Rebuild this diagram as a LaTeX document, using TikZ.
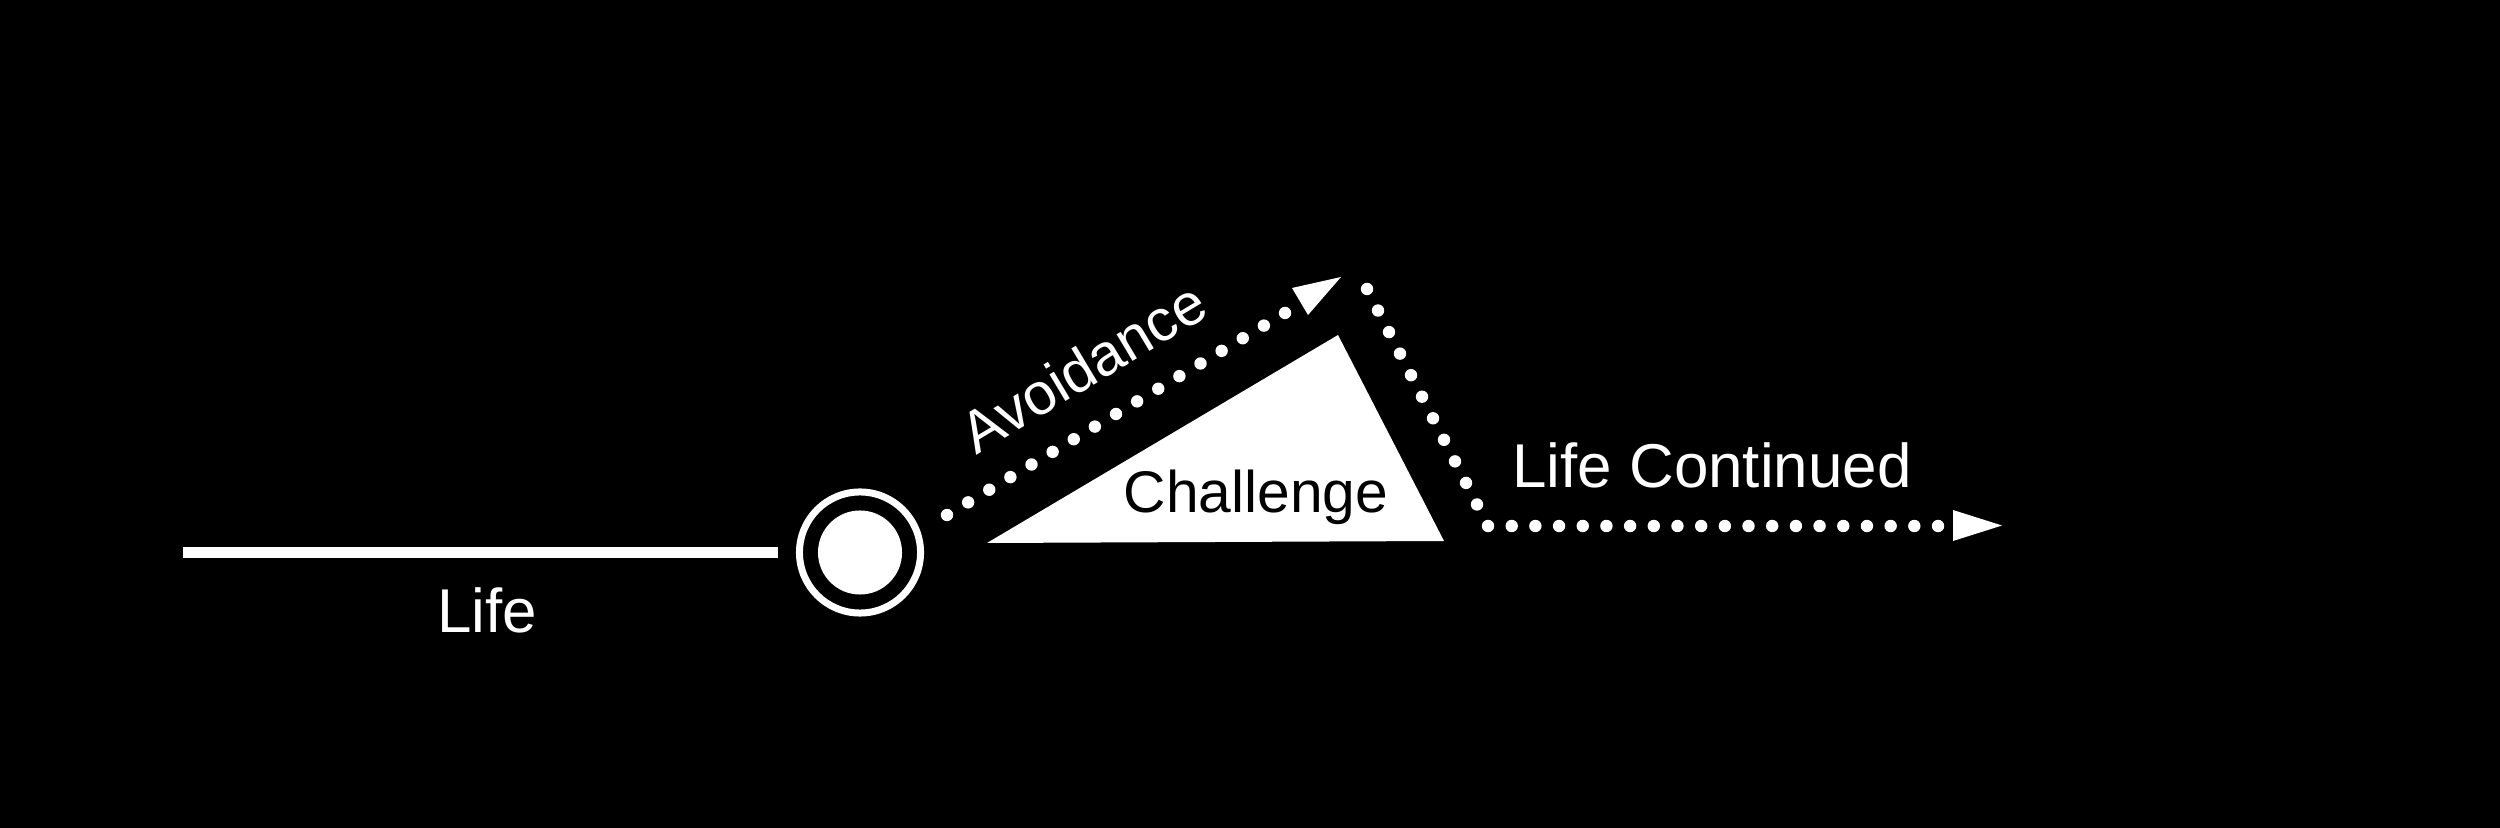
\documentclass[tikz,border=0pt]{standalone}
\usepackage{fontspec}
\setmainfont{Liberation Sans}
\usetikzlibrary{calc}
\tikzset{
  dotfill/.style={fill=white},
  lbl/.style={text=white, inner sep=0pt, anchor=base, font=\fontsize{17.6}{20}\selectfont},
  lblsmall/.style={inner sep=0pt, anchor=base, font=\fontsize{16.7}{19}\selectfont},
}
\begin{document}
\begin{tikzpicture}[x=0.01cm, y=-0.01cm]
  % background
  \fill[black] (0,0) rectangle (2500,828);
  \useasboundingbox (0,0) rectangle (2500,828);

  % named coordinates
  \coordinate (lifeA) at (183,552.5);
  \coordinate (lifeB) at (778,552.5);
  \coordinate (av1) at (947,515);
  \coordinate (av2) at (1285,313);
  \coordinate (avtip) at (1341,277);
  \coordinate (avb1) at (1292,288);
  \coordinate (avb2) at (1308,315);
  \coordinate (lc1) at (1367,289);
  \coordinate (lc2) at (1488,526);
  \coordinate (lc3) at (1938,526);
  \coordinate (lctip) at (2002,525.5);
  \coordinate (lcb1) at (1953,510);
  \coordinate (lcb2) at (1953,541);
  \coordinate (chA) at (987,543);
  \coordinate (chB) at (1338,335);
  \coordinate (chC) at (1444,541);

  % Life line
  \draw[white, line width=0.116cm, line cap=butt] (lifeA) -- (lifeB);
  \node[lbl] (life) at (487,633) {Life};

  % ring
  \node[circle, draw=white, line width=0.07cm, minimum size=1.21cm, inner sep=0pt] (ring) at (860,552.5) {};
  \node[circle, fill=white, minimum size=0.84cm, inner sep=0pt] (core) at (ring.center) {};

  % Challenge triangle
  \fill[white] (chA) -- (chB) -- (chC) -- cycle;
  \node[lblsmall, text=black] (challenge) at (1256,513) {Challenge};

  % Avoidance dotted line
  \foreach \i in {0,...,16}
    \fill[dotfill] ($(av1)!\i/16!(av2)$) circle (0.062cm);
  \fill[white] (avb1) -- (avtip) -- (avb2) -- cycle;
  \node[lblsmall, text=white, rotate=30.9] (avoid) at (1094,385) {Avoidance};

  % Life Continued dotted line
  \foreach \i in {0,...,11}
    \fill[dotfill] ($(lc1)!\i/11!(lc2)$) circle (0.062cm);
  \foreach \i in {1,...,19}
    \fill[dotfill] ($(lc2)!\i/19!(lc3)$) circle (0.062cm);
  \fill[white] (lcb1) -- (lctip) -- (lcb2) -- cycle;
  \node[lbl] (lifecont) at (1712,488) {Life Continued};
\end{tikzpicture}
\end{document}
